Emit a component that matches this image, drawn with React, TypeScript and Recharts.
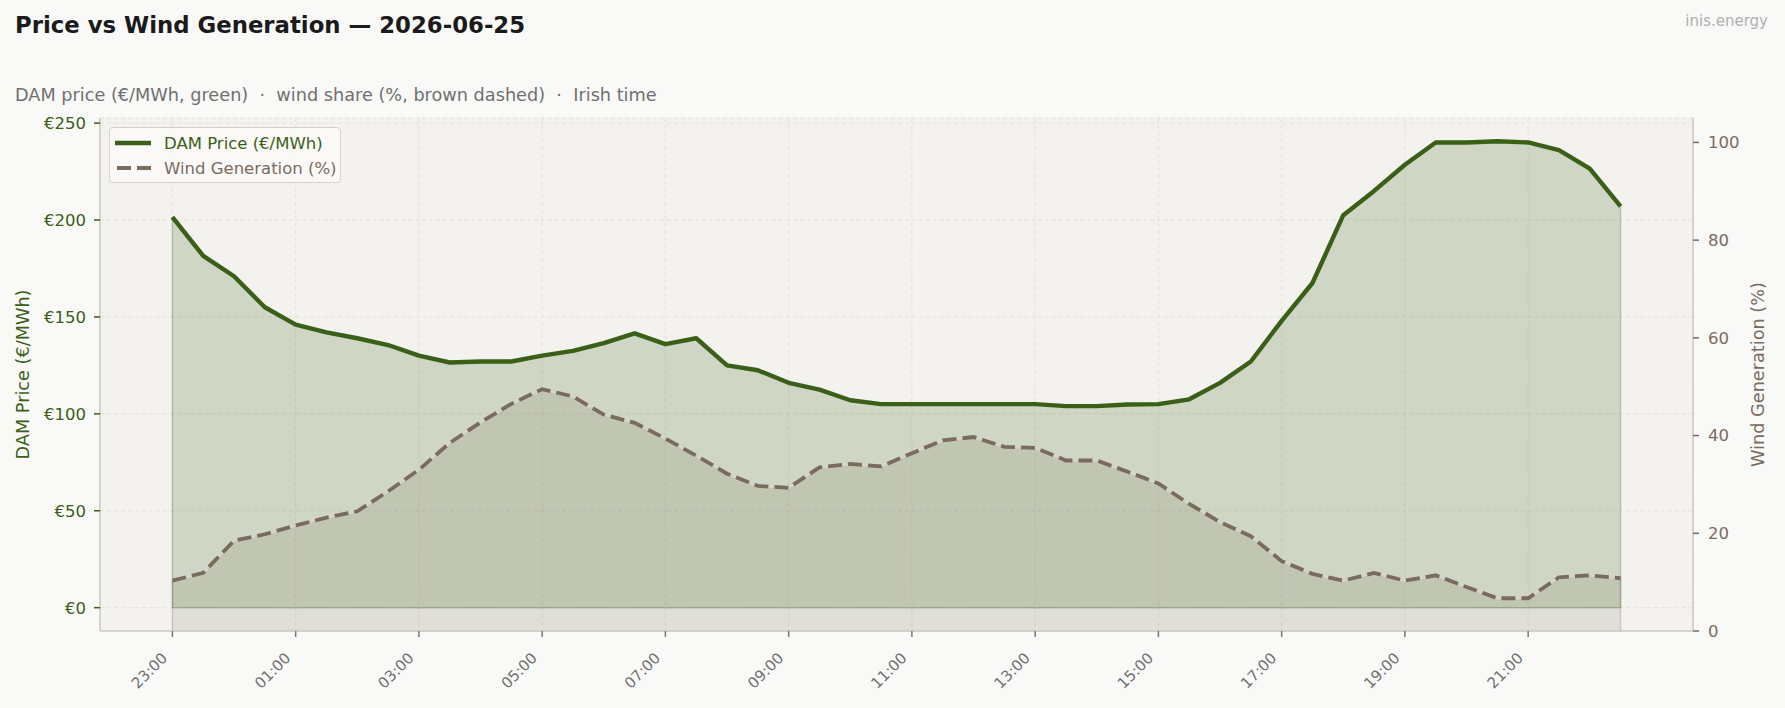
import { ComposedChart, Area, Line, XAxis, YAxis, CartesianGrid, ReferenceLine } from 'recharts';

// half-hourly slots, Irish time, 23:00 -> 22:30
const slotTimes = [
  '23:00', '23:30', '00:00', '00:30', '01:00', '01:30', '02:00', '02:30',
  '03:00', '03:30', '04:00', '04:30', '05:00', '05:30', '06:00', '06:30',
  '07:00', '07:30', '08:00', '08:30', '09:00', '09:30', '10:00', '10:30',
  '11:00', '11:30', '12:00', '12:30', '13:00', '13:30', '14:00', '14:30',
  '15:00', '15:30', '16:00', '16:30', '17:00', '17:30', '18:00', '18:30',
  '19:00', '19:30', '20:00', '20:30', '21:00', '21:30', '22:00', '22:30',
];

const damPrice = [
  201.5, 181.5, 171, 155, 146, 142, 139, 135.5,
  130, 126.5, 127, 127, 130, 132.5, 136.5, 141.5,
  136, 139, 125, 122.5, 116, 112.5, 107, 105,
  105, 105, 105, 105, 105, 104, 104, 104.8,
  105, 107.5, 116, 127, 148, 167.5, 202.5, 215,
  228.5, 240, 240, 240.6, 240, 236, 226.5, 207,
];

const windShare = [
  10.3, 11.9, 18.5, 19.8, 21.6, 23.2, 24.5, 28.6,
  33, 38.5, 42.7, 46.5, 49.5, 48, 44.3, 42.6,
  39.4, 35.9, 32.2, 29.7, 29.3, 33.5, 34.2, 33.7,
  36.4, 39, 39.7, 37.7, 37.5, 34.9, 34.9, 32.6,
  30.2, 26, 22.3, 19.4, 14.3, 11.7, 10.3, 11.9,
  10.3, 11.4, 9, 6.7, 6.7, 11, 11.4, 10.8,
];

const xTickSlots = [0, 4, 8, 12, 16, 20, 24, 28, 32, 36, 40, 44];
const priceTicks = [0, 50, 100, 150, 200, 250];
const windTicks = [0, 20, 40, 60, 80, 100];

const data = slotTimes.map((time, i) => ({
  slot: i,
  time,
  price: damPrice[i],
  wind: windShare[i],
}));

const last = slotTimes.length - 1;

const GREEN = '#3a5f17';
const BROWN = '#7b6b5d';
const FRAME = '#cdc9c2';
const FONT = '"DejaVu Sans", sans-serif';

const XTick = ({ x, y, payload }: any) => {
  const ax = x - 12;
  const ay = y + 12;
  return (
    <text
      x={ax}
      y={ay}
      dy="0.75em"
      textAnchor="end"
      transform={`rotate(-45, ${ax}, ${ay})`}
      fill="#707070"
      fontSize={15}
      fontFamily={FONT}
    >
      {slotTimes[payload.value]}
    </text>
  );
};

const ChartLegend = () => (
  <div
    style={{
      position: 'absolute',
      left: 109,
      top: 127,
      width: 232,
      height: 56,
      boxSizing: 'border-box',
      border: '1.5px solid #d6d2cb',
      borderRadius: 4,
      background: 'rgba(250,250,248,0.85)',
      fontFamily: FONT,
      fontSize: 16.5,
    }}
  >
    <div style={{ position: 'absolute', left: 4, top: 4, display: 'flex', alignItems: 'center', height: 22 }}>
      <svg width={38} height={10}>
        <line x1={1} y1={5} x2={37} y2={5} stroke={GREEN} strokeWidth={4.4} />
      </svg>
      <span style={{ marginLeft: 12, color: GREEN }}>DAM Price (€/MWh)</span>
    </div>
    <div style={{ position: 'absolute', left: 4, top: 29, display: 'flex', alignItems: 'center', height: 22 }}>
      <svg width={38} height={10}>
        <line x1={3} y1={5} x2={37} y2={5} stroke={BROWN} strokeWidth={3.8} strokeDasharray="14 6" />
      </svg>
      <span style={{ marginLeft: 12, color: BROWN }}>Wind Generation (%)</span>
    </div>
  </div>
);

export default function App() {
  return (
    <div
      style={{
        position: 'absolute',
        left: 0,
        top: 0,
        width: 1785,
        height: 708,
        background: '#f9f9f7',
        fontFamily: FONT,
        overflow: 'hidden',
      }}
    >
      <div style={{ position: 'absolute', left: 15, top: 14, fontSize: 22.8, fontWeight: 'bold', color: '#1a1a1a', lineHeight: 1, whiteSpace: 'nowrap' }}>
        Price vs Wind Generation — 2026-06-25
      </div>
      <div style={{ position: 'absolute', right: 17, top: 14, fontSize: 15, color: '#b0b0b0', lineHeight: 1 }}>
        inis.energy
      </div>
      <div style={{ position: 'absolute', left: 15, top: 87, fontSize: 17.7, color: '#707070', lineHeight: 1, whiteSpace: 'pre' }}>
        DAM price (€/MWh, green)  ·  wind share (%, brown dashed)  ·  Irish time
      </div>

      <div style={{ position: 'absolute', left: 0, top: 0 }}>
        <ComposedChart width={1785} height={708} data={data} margin={{ top: 118, right: 0, bottom: 0, left: 0 }}>
          <CartesianGrid
            xAxisId="x"
            yAxisId="left"
            fill="#f3f2ee"
            stroke="#dfdcd5"
            strokeOpacity={0.8}
            strokeDasharray="4 3"
          />
          <XAxis
            xAxisId="x"
            dataKey="slot"
            type="number"
            domain={[-2.35, 49.35]}
            allowDataOverflow
            ticks={xTickSlots}
            interval={0}
            height={77}
            tick={<XTick />}
            tickSize={6}
            tickLine={{ stroke: '#777777', strokeWidth: 1.5 }}
            axisLine={{ stroke: FRAME, strokeWidth: 1.5 }}
          />
          <XAxis
            xAxisId="top"
            orientation="top"
            dataKey="slot"
            type="number"
            domain={[-2.35, 49.35]}
            height={0}
            tick={false}
            tickLine={false}
            axisLine={{ stroke: FRAME, strokeWidth: 1.5 }}
          />
          <YAxis
            yAxisId="left"
            orientation="left"
            width={100}
            domain={[-12.03, 252.63]}
            allowDataOverflow
            ticks={priceTicks}
            tickFormatter={(v: number) => `€${v}`}
            tick={{ fill: GREEN, fontSize: 16.5, fontFamily: FONT }}
            tickSize={6}
            tickMargin={8}
            tickLine={{ stroke: GREEN, strokeWidth: 1.5 }}
            axisLine={{ stroke: FRAME, strokeWidth: 1.5 }}
            label={{ value: 'DAM Price (€/MWh)', angle: -90, position: 'center', dx: -27, fill: GREEN, fontSize: 17.7, fontFamily: FONT }}
          />
          <YAxis
            yAxisId="right"
            orientation="right"
            width={92}
            domain={[0, 105]}
            allowDataOverflow
            ticks={windTicks}
            tick={{ fill: BROWN, fontSize: 16.5, fontFamily: FONT }}
            tickSize={6}
            tickMargin={9}
            tickLine={{ stroke: BROWN, strokeWidth: 1.5 }}
            axisLine={{ stroke: FRAME, strokeWidth: 1.5 }}
            label={{ value: 'Wind Generation (%)', angle: -90, position: 'center', dx: 19, fill: BROWN, fontSize: 17.7, fontFamily: FONT }}
          />

          <Area
            xAxisId="x"
            yAxisId="right"
            type="linear"
            dataKey="wind"
            fill={BROWN}
            fillOpacity={0.15}
            stroke="none"
            isAnimationActive={false}
            dot={false}
            activeDot={false}
          />
          <Area
            xAxisId="x"
            yAxisId="left"
            type="linear"
            dataKey="price"
            fill={GREEN}
            fillOpacity={0.19}
            stroke="none"
            isAnimationActive={false}
            dot={false}
            activeDot={false}
          />
          {/* fill edges */}
          <ReferenceLine xAxisId="x" yAxisId="right" segment={[{ x: 0, y: 0 }, { x: 0, y: windShare[0] }]} stroke={BROWN} strokeOpacity={0.25} strokeWidth={1.5} />
          <ReferenceLine xAxisId="x" yAxisId="right" segment={[{ x: last, y: 0 }, { x: last, y: windShare[last] }]} stroke={BROWN} strokeOpacity={0.25} strokeWidth={1.5} />
          <ReferenceLine xAxisId="x" yAxisId="left" segment={[{ x: 0, y: 0 }, { x: last, y: 0 }]} stroke={GREEN} strokeOpacity={0.3} strokeWidth={1.5} />
          <ReferenceLine xAxisId="x" yAxisId="left" segment={[{ x: 0, y: 0 }, { x: 0, y: damPrice[0] }]} stroke={GREEN} strokeOpacity={0.25} strokeWidth={1.5} />
          <ReferenceLine xAxisId="x" yAxisId="left" segment={[{ x: last, y: 0 }, { x: last, y: damPrice[last] }]} stroke={GREEN} strokeOpacity={0.25} strokeWidth={1.5} />
          <Line
            xAxisId="x"
            yAxisId="right"
            type="linear"
            dataKey="wind"
            stroke="#d7d5ce"
            strokeOpacity={0.85}
            strokeWidth={2.5}
            dot={false}
            activeDot={false}
            isAnimationActive={false}
          />
          <Line
            xAxisId="x"
            yAxisId="right"
            type="linear"
            dataKey="wind"
            stroke={BROWN}
            strokeWidth={3.8}
            strokeDasharray="14 6"
            dot={false}
            activeDot={false}
            isAnimationActive={false}
          />
          <Line
            xAxisId="x"
            yAxisId="left"
            type="linear"
            dataKey="price"
            stroke={GREEN}
            strokeWidth={4.4}
            strokeLinejoin="round"
            dot={false}
            activeDot={false}
            isAnimationActive={false}
          />
        </ComposedChart>
      </div>

      <ChartLegend />
    </div>
  );
}
